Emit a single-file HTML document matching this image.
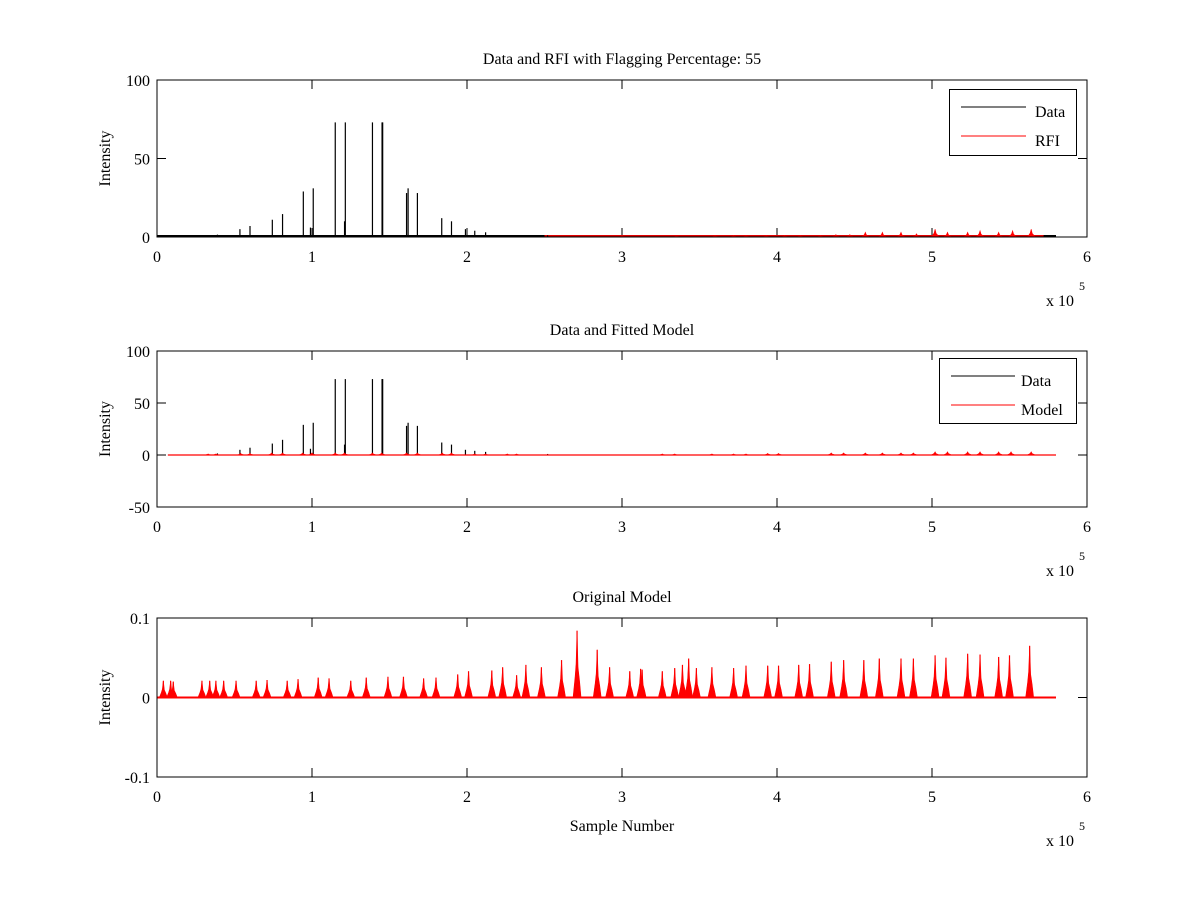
<!DOCTYPE html>
<html><head><meta charset="utf-8"><style>
body{margin:0;background:#fff;}
svg{display:block;font-family:"Liberation Serif",serif;}
</style></head><body>
<svg id="fig" width="1200" height="900" viewBox="0 0 1200 900">
<rect width="1200" height="900" fill="#fff"/>
<g id="root"></g>
</svg>
<script>
// ---- data (x in units of 1e5 samples) ----
const dataSpikeX = [0.39,0.535,0.6,0.744,0.81,0.944,0.99,1.008,1.15,1.21,1.215,1.39,1.452,1.456,1.61,1.62,1.68,1.837,1.9,1.99,2.05,2.12,2.26,2.52];
const dataSpikeY = [1.5,5,7,11,14.6,29,6,31,73,10,73,73,73,73,28,31,28,12,10,5,4,3,1,1];
const rfiX = [3.0,3.35,3.6,3.72,3.8,3.93,4.05,4.15,4.28,4.38,4.47,4.57,4.68,4.8,4.9,5.02,5.1,5.23,5.31,5.43,5.52,5.64];
const rfiY = [0.8,0.8,1,1,1,1,1,1,1,1.5,1.5,3,3,3,2,5,3,3,4,3,4,5];
const modelX = [0.33,0.38,0.54,0.6,0.74,0.81,0.94,1.0,1.15,1.21,1.39,1.45,1.61,1.68,1.84,1.9,2.05,2.12,2.26,2.32,3.26,3.34,3.58,3.72,3.8,3.94,4.01,4.35,4.43,4.57,4.68,4.8,4.88,5.02,5.1,5.23,5.31,5.43,5.51,5.64];
const modelY = [1,1,1.5,1.5,2,2,2,2,2,2,2,2,2,2,2,2,1,1,1,1,1,1,1,1,1,1.5,1.5,2,2,2,2,2,2,3,3,3,3,3,3,3];
const origX = [0.041,0.088,0.105,0.29,0.34,0.38,0.43,0.51,0.64,0.71,0.84,0.91,1.04,1.11,1.25,1.35,1.49,1.59,1.72,1.80,1.94,2.01,2.16,2.23,2.32,2.38,2.48,2.61,2.71,2.84,2.92,3.05,3.12,3.13,3.26,3.34,3.39,3.43,3.48,3.58,3.72,3.80,3.94,4.01,4.14,4.21,4.35,4.43,4.56,4.66,4.80,4.88,5.02,5.09,5.23,5.31,5.43,5.50,5.63];
const origY = [0.021,0.021,0.02,0.021,0.021,0.021,0.021,0.021,0.021,0.022,0.021,0.023,0.025,0.024,0.021,0.025,0.026,0.026,0.024,0.025,0.029,0.033,0.034,0.038,0.028,0.041,0.038,0.047,0.084,0.06,0.038,0.033,0.036,0.035,0.033,0.037,0.041,0.049,0.037,0.038,0.037,0.04,0.04,0.04,0.041,0.042,0.045,0.047,0.047,0.049,0.049,0.049,0.053,0.05,0.055,0.054,0.051,0.053,0.065];
const xTicks = [0,1,2,3,4,5,6];
const yTicks1 = [0,50,100], yTicks2 = [-50,0,50,100], yTicks3 = [-0.1,0,0.1];

const NS="http://www.w3.org/2000/svg";
const root=document.getElementById('root');
function el(t,a,p){const e=document.createElementNS(NS,t);for(const k in a)e.setAttribute(k,a[k]);(p||root).appendChild(e);return e;}
function txt(s,a,p){const e=el('text',a,p);e.textContent=s;return e;}
const X0=157,X1=1087;
const xs=v=>X0+(v-0)/(6-0)*(X1-X0);

function axes(name,top,bot,ymin,ymax,yt,ylab,title,xlabel){
  const g=el('g',{});
  
  
  const ys=v=>bot-(v-ymin)/(ymax-ymin)*(bot-top);
  const t=txt(title,{x:622,y:top-16,'text-anchor':'middle','font-size':16},g);
  
  
  for(const v of xTicks){
    const x=xs(v);
    el('line',{x1:x,x2:x,y1:bot,y2:bot-9,stroke:'#000'},g);
    el('line',{x1:x,x2:x,y1:top,y2:top+9,stroke:'#000'},g);
    const l=txt(String(v),{x:x,y:bot+25,'text-anchor':'middle','font-size':16},g);
    
    
  }
  for(const v of yt){
    const y=ys(v);
    el('line',{x1:X0,x2:X0+9,y1:y,y2:y,stroke:'#000'},g);
    el('line',{x1:X1,x2:X1-9,y1:y,y2:y,stroke:'#000'},g);
    const l=txt(String(v),{x:X0-7,y:y+6,'text-anchor':'end','font-size':16},g);
    
    
  }
  const yl=txt(ylab,{x:0,y:0,'text-anchor':'middle','font-size':16,transform:`translate(110,${(top+bot)/2}) rotate(-90)`},g);
  
  
  const m=txt('x 10',{x:1046,y:bot+69,'font-size':16},g);
  
  
  txt('5',{x:1079,y:bot+53,'font-size':12},g);
  if(xlabel){const xl=txt(xlabel,{x:622,y:bot+54,'text-anchor':'middle','font-size':16},g);
    
    }
  const mk=el('g',{},g);
  el('rect',{x:X0,y:top,width:X1-X0,height:bot-top,fill:'none',stroke:'#000'},g);
  return {ys,mk};
}
function spikes(g,xa,ya,ys,color,w){
  for(let i=0;i<xa.length;i++){
    const l=el('line',{x1:xs(xa[i]),x2:xs(xa[i]),y1:ys(0),y2:ys(ya[i]),stroke:color,'stroke-width':w||1},g);
    
    
  }
}
function cluster(g,xa,ya,ys,color){
  for(let i=0;i<xa.length;i++){
    const c=xs(xa[i]),b=ys(0),h=ys(ya[i]);
    const p=el('path',{d:`M${c-4},${b} L${c-2},${b-(b-h)*0.3} L${c-1},${b-(b-h)*0.5} L${c},${h} L${c+1},${b-(b-h)*0.45} L${c+2.5},${b-(b-h)*0.25} L${c+4},${b} Z`,fill:color,stroke:color,'stroke-width':0.6},g);
    
    
  }
}
// Plot 1
let a=axes('data-rfi-plot',80,237,0,100,yTicks1,'Intensity','Data and RFI with Flagging Percentage: 55');
el('line',{x1:xs(0),x2:xs(5.8),y1:a.ys(0.6),y2:a.ys(0.6),stroke:'#000','stroke-width':2},a.mk);
el('line',{x1:xs(2.5),x2:xs(5.72),y1:a.ys(0.8),y2:a.ys(0.8),stroke:'#f00','stroke-width':1.2},a.mk);
spikes(a.mk,dataSpikeX,dataSpikeY,a.ys,'#000',1.2);
cluster(a.mk,rfiX,rfiY,a.ys,'#f00');
// legend 1
let lg=el('g',{});


el('rect',{x:949.5,y:89.5,width:127,height:66,fill:'#fff',stroke:'#000'},lg);
el('line',{x1:961,x2:1026,y1:107,y2:107,stroke:'#000'},lg);
el('line',{x1:961,x2:1026,y1:136,y2:136,stroke:'#f00'},lg);
txt('Data',{x:1035,y:117,'font-size':16},lg);
txt('RFI',{x:1035,y:146,'font-size':16},lg);
// Plot 2
a=axes('data-model-plot',351,507,-50,100,yTicks2,'Intensity','Data and Fitted Model');
spikes(a.mk,dataSpikeX,dataSpikeY,a.ys,'#000',1.2);
el('line',{x1:xs(0.07),x2:xs(5.8),y1:a.ys(0),y2:a.ys(0),stroke:'#f00','stroke-width':1.2},a.mk);
cluster(a.mk,modelX,modelY,a.ys,'#f00');
lg=el('g',{});


el('rect',{x:939.5,y:358.5,width:137,height:65,fill:'#fff',stroke:'#000'},lg);
el('line',{x1:951,x2:1015,y1:376,y2:376,stroke:'#000'},lg);
el('line',{x1:951,x2:1015,y1:405,y2:405,stroke:'#f00'},lg);
txt('Data',{x:1021,y:386,'font-size':16},lg);
txt('Model',{x:1021,y:415,'font-size':16},lg);
// Plot 3
a=axes('original-model-plot',618,777,-0.1,0.1,yTicks3,'Intensity','Original Model','Sample Number');
el('line',{x1:xs(0),x2:xs(5.8),y1:a.ys(0),y2:a.ys(0),stroke:'#f00','stroke-width':2},a.mk);
cluster(a.mk,origX,origY,a.ys,'#f00');
spikes(a.mk,origX,origY,a.ys,'#f00',1.2);
</script>
</body></html>
